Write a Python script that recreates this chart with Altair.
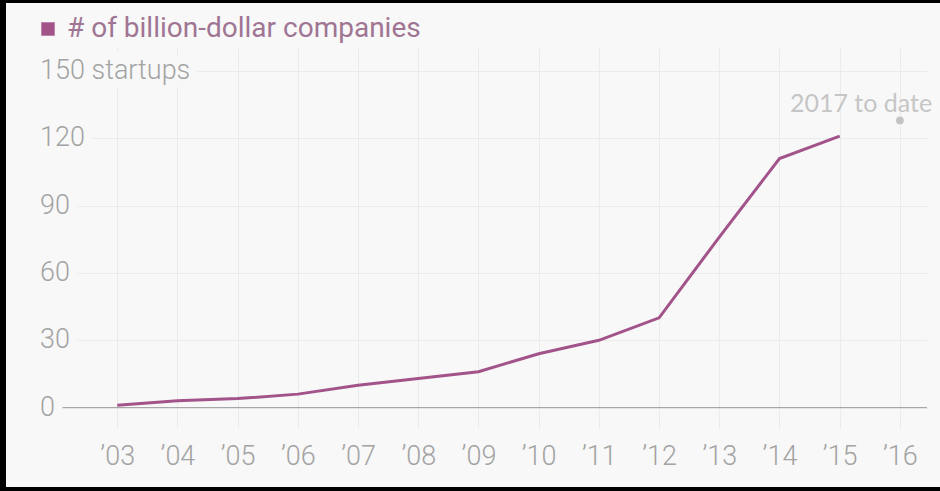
import altair as alt
import pandas as pd

# ---- data ----
years = [2003, 2004, 2005, 2006, 2007, 2008, 2009, 2010, 2011, 2012, 2013, 2014, 2015]
companies = [1, 3, 4, 6, 10, 13, 16, 24, 30, 40, 76, 111, 121]
latest_pos = [2016]
latest_value = [128]
latest_label = ["2017 to date"]
x_ticks = list(range(2003, 2017))
y_ticks = [0, 30, 60, 90, 120, 150]
y_tick_labels = ["0", "30", "60", "90", "120", "150 startups"]
series_name = "# of billion-dollar companies"

# ---- styles ----
BG = "#f8f8f8"
LINE = "#a2538a"
LEGEND_TEXT = "#9f7593"
TICK_TEXT = "#a3a3a3"
NOTE_TEXT = "#c6c6c6"
GRID = "#ebebeb"
FONT = "Roboto"
FS = 27

df = pd.DataFrame({"year": years, "count": companies, "series": [series_name] * len(years)})
latest = pd.DataFrame({"year": latest_pos, "count": latest_value, "label": latest_label})
yl = pd.DataFrame({"v": y_ticks, "label": y_tick_labels})
zero = pd.DataFrame({"v": [0]})

xscale = alt.Scale(domain=[2001.717, 2016.45], nice=False, zero=False)
yscale = alt.Scale(domain=[-9.1, 160.3], nice=False, zero=False)

xaxis = alt.Axis(
    values=x_ticks,
    labelExpr="'\u2019' + substring(toString(datum.value), 2, 4)",
    grid=True, gridColor=GRID, gridWidth=1,
    domain=False, ticks=False, tickSize=0,
    labelPadding=15, labelFontSize=FS, labelColor=TICK_TEXT, labelFont=FONT,
    labelFontWeight=300, title=None,
)
yaxis = alt.Axis(
    values=y_ticks, grid=True, gridColor=GRID, gridWidth=1,
    labels=False, domain=False, ticks=False, title=None,
)

base_grid = alt.Chart(df).mark_point(opacity=0).encode(
    x=alt.X("year:Q", scale=xscale, axis=xaxis),
    y=alt.Y("count:Q", scale=yscale, axis=yaxis),
)

zero_line = alt.Chart(zero).mark_rule(color="#a0a0a0", strokeWidth=1).encode(
    y=alt.Y("v:Q", scale=yscale)
)

halo = alt.Chart(yl).mark_text(
    align="left", baseline="middle", fontSize=FS, font=FONT, fontWeight=300,
    fill=BG, stroke=BG, strokeWidth=18,
).encode(x=alt.value(0), y=alt.Y("v:Q", scale=yscale), text="label:N")

ylabels = alt.Chart(yl).mark_text(
    align="left", baseline="middle", fontSize=FS, font=FONT, fontWeight=300,
    color=TICK_TEXT,
).encode(x=alt.value(0), y=alt.Y("v:Q", scale=yscale), text="label:N")

line = alt.Chart(df).mark_line(strokeWidth=3).encode(
    x=alt.X("year:Q", scale=xscale),
    y=alt.Y("count:Q", scale=yscale),
    color=alt.Color(
        "series:N",
        scale=alt.Scale(range=[LINE]),
        legend=alt.Legend(
            title=None, orient="none", legendX=-6, legendY=-33, padding=0,
            symbolType="square", symbolSize=180, symbolFillColor=LINE,
            symbolStrokeWidth=0, symbolOpacity=1, labelFontSize=28, labelFont=FONT,
            labelFontWeight=400, labelColor=LEGEND_TEXT, labelOffset=5,
            labelLimit=600,
        ),
    ),
)

dot = alt.Chart(latest).mark_circle(size=60, color="#c3c3c3", opacity=1).encode(
    x=alt.X("year:Q", scale=xscale), y=alt.Y("count:Q", scale=yscale)
)
note = alt.Chart(latest).mark_text(
    align="left", baseline="middle", dx=-110, dy=-16, fontSize=25, font="Lato",
    color=NOTE_TEXT,
).encode(x=alt.X("year:Q", scale=xscale), y=alt.Y("count:Q", scale=yscale), text="label:N")

# decorative screenshot frame (black bands at left, top, bottom)
frame_left = alt.Chart(zero).mark_rule(color="black", strokeWidth=6).encode(
    x=alt.value(-37), y=alt.value(-48), y2=alt.value(443)
)
frame_top = alt.Chart(zero).mark_rule(color="black", strokeWidth=3).encode(
    x=alt.value(-40), x2=alt.value(905), y=alt.value(-46.5)
)
frame_bottom = alt.Chart(zero).mark_rule(color="black", strokeWidth=4).encode(
    x=alt.value(-40), x2=alt.value(905), y=alt.value(441)
)

chart = alt.layer(
    base_grid, zero_line, halo, ylabels, line, dot, note,
    frame_left, frame_top, frame_bottom,
).properties(
    width=887, height=380,
    background=BG,
    padding={"left": 40, "top": 48, "right": 13, "bottom": 63},
    autosize=alt.AutoSizeParams(type="none"),
).configure_view(stroke=None, fill=BG)

chart.save("out.html", embed_options={"renderer": "svg", "actions": False})
